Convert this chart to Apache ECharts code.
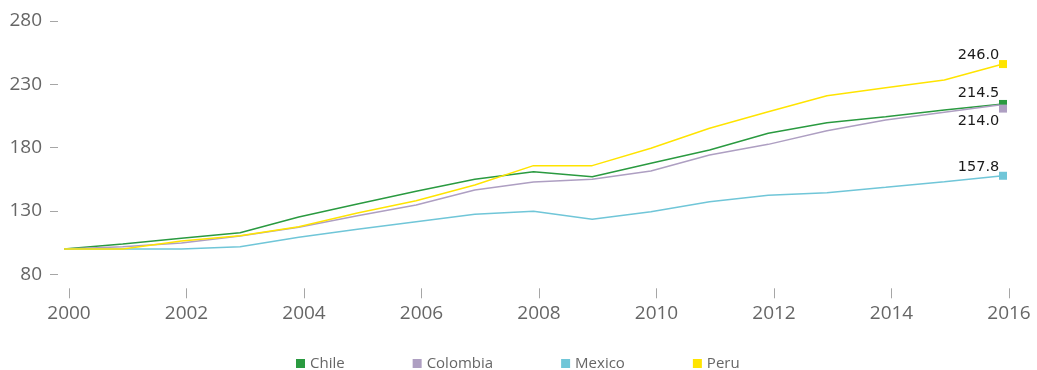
<!DOCTYPE html>
<html>
<head>
<meta charset="utf-8">
<script src="https://cdn.jsdelivr.net/npm/echarts@6/dist/echarts.min.js"></script>
<style>
  html, body { margin: 0; padding: 0; background: #ffffff; }
  #chart { width: 1037px; height: 370px; }
</style>
</head>
<body>
<div id="chart"></div>
<script>
// Index of real output, 2000 = 100
const years = [2000, 2001, 2002, 2003, 2004, 2005, 2006, 2007, 2008,
               2009, 2010, 2011, 2012, 2013, 2014, 2015, 2016];
const chile    = [100, 104.0, 108.5, 112.8, 125.3, 135.5, 145.5, 155.0, 161.0,
                  157.1, 167.6, 178.1, 191.3, 199.7, 204.4, 209.7, 214.5];
const colombia = [100, 101.8, 104.7, 110.2, 117.2, 126.3, 134.7, 146.6, 152.9,
                  155.0, 161.6, 174.2, 182.6, 193.4, 201.8, 207.9, 214.0];
const mexico   = [100, 100.0, 100.0, 101.8, 109.2, 115.6, 121.5, 127.4, 129.7,
                  123.4, 129.4, 137.3, 142.4, 144.4, 148.7, 153.1, 157.8];
const peru     = [100, 100.0, 106.3, 110.5, 117.6, 128.4, 138.0, 150.5, 165.8,
                  165.8, 179.5, 195.3, 208.4, 221.0, 227.3, 233.4, 246.0];

const xTicks = [2000, 2002, 2004, 2006, 2008, 2010, 2012, 2014, 2016];
const yTicks = [80, 130, 180, 230, 280];

const axisFont = '"Open Sans", "Liberation Sans", sans-serif';
const valueFont = '"DejaVu Sans", Verdana, sans-serif';

function lineSeries(name, values, color, markerShift, labelPos, labelDistance) {
  const last = values.length - 1;
  return {
    name: name,
    type: 'line',
    xAxisIndex: 0,
    yAxisIndex: 0,
    symbol: 'none',
    showSymbol: true,
    silent: true,
    lineStyle: { color: color, width: 1.5 },
    itemStyle: { color: color },
    emphasis: { disabled: true },
    data: values.map(function (v, i) {
      if (i !== last) return [years[i], v];
      return {
        value: [years[i], v],
        symbol: 'rect',
        symbolSize: 8,
        symbolOffset: [0, markerShift],
        label: {
          show: true,
          position: labelPos,
          distance: labelDistance,
          offset: [-24.5, 0],
          formatter: v.toFixed(1),
          color: '#1a1a1a',
          fontFamily: valueFont,
          fontSize: 14.5
        }
      };
    })
  };
}

const chart = echarts.init(document.getElementById('chart'), null, { renderer: 'canvas' });

chart.setOption({
  animation: false,
  backgroundColor: '#ffffff',
  grid: [
    // plotting area for the lines
    { left: 64, right: 34, top: 21, bottom: 95.7 },
    // area carrying the year ticks
    { left: 69, right: 28, top: 21, bottom: 95.7 }
  ],
  legend: {
    left: 296,
    top: 356,
    padding: 0,
    icon: 'rect',
    itemWidth: 9,
    itemHeight: 9,
    itemGap: 68,
    selectedMode: false,
    textStyle: { color: '#666666', fontFamily: axisFont, fontSize: 15 },
    data: ['Chile', 'Colombia', 'Mexico', 'Peru']
  },
  xAxis: [
    {
      gridIndex: 0,
      type: 'value',
      min: years[0],
      max: years[years.length - 1],
      show: false
    },
    {
      gridIndex: 1,
      type: 'value',
      min: xTicks[0],
      max: xTicks[xTicks.length - 1],
      interval: xTicks[1] - xTicks[0],
      offset: 14,
      axisLine: { show: false },
      axisTick: { show: true, length: 10, lineStyle: { color: '#a6a6a6', width: 1 } },
      splitLine: { show: false },
      axisLabel: {
        margin: 16,
        color: '#666666',
        fontFamily: axisFont,
        fontSize: 19,
        formatter: function (v) { return String(v); }
      }
    }
  ],
  yAxis: [
    {
      gridIndex: 0,
      type: 'value',
      min: yTicks[0],
      max: yTicks[yTicks.length - 1],
      interval: yTicks[1] - yTicks[0],
      offset: 6,
      axisLine: { show: false },
      axisTick: { show: true, length: 8, lineStyle: { color: '#a6a6a6', width: 1 } },
      splitLine: { show: false },
      axisLabel: {
        margin: 16,
        color: '#666666',
        fontFamily: axisFont,
        fontSize: 19
      }
    },
    {
      gridIndex: 1,
      type: 'value',
      min: yTicks[0],
      max: yTicks[yTicks.length - 1],
      show: false
    }
  ],
  series: [
    lineSeries('Chile', chile, '#2a9a40', 0, 'top', -1),
    lineSeries('Colombia', colombia, '#ae9fc2', 4, 'bottom', 1),
    lineSeries('Mexico', mexico, '#70c6d8', 0, 'top', -3),
    lineSeries('Peru', peru, '#ffe400', 0, 'top', -3)
  ]
});
</script>
</body>
</html>
